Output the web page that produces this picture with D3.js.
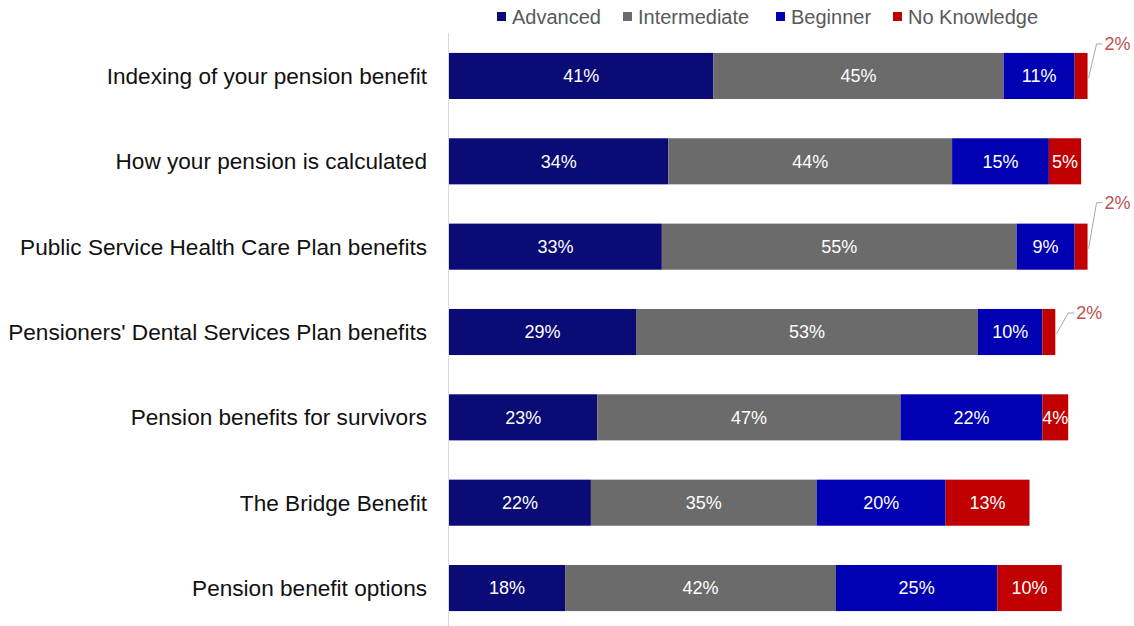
<!DOCTYPE html>
<html>
<head>
<meta charset="utf-8">
<script src="https://cdn.jsdelivr.net/npm/d3@7/dist/d3.min.js"></script>
<style>
  html, body { margin: 0; padding: 0; background: #fff; }
  svg { display: block; font-family: "Liberation Sans", Arial, sans-serif; }
</style>
</head>
<body>
<svg id="chart" width="1134" height="626"></svg>
<script>
// Survey topics, top to bottom
const categories = [
  "Indexing of your pension benefit",
  "How your pension is calculated",
  "Public Service Health Care Plan benefits",
  "Pensioners' Dental Services Plan benefits",
  "Pension benefits for survivors",
  "The Bridge Benefit",
  "Pension benefit options"
];

// Knowledge levels (stack order, left to right)
const seriesNames = ["Advanced", "Intermediate", "Beginner", "No Knowledge"];

// Percent of respondents per level
const advanced     = [41, 34, 33, 29, 23, 22, 18];
const intermediate = [45, 44, 55, 53, 47, 35, 42];
const beginner     = [11, 15,  9, 10, 22, 20, 25];
const noKnowledge  = [ 2,  5,  2,  2,  4, 13, 10];

const colors = ["#0B0B75", "#6B6B6B", "#0000B2", "#C00000"];

const rows = categories.map((c, i) => ({
  category: c,
  "Advanced": advanced[i],
  "Intermediate": intermediate[i],
  "Beginner": beginner[i],
  "No Knowledge": noKnowledge[i]
}));

// Small segments get their label outside with a leader line (offsets in px)
const calloutOffset = {
  0: { dx: 16, dy: -32 },
  2: { dx: 16, dy: -44 },
  3: { dx: 20, dy: -19 }
};

const svg = d3.select("#chart");

const x = d3.scaleLinear().domain([0, 100]).range([449, 1094]);
const y = d3.scaleBand()
  .domain(categories)
  .range([33.3, 630.7])
  .paddingInner(0.46)
  .paddingOuter(0.23);

const color = d3.scaleOrdinal().domain(seriesNames).range(colors);

const stacked = d3.stack().keys(seriesNames)(rows);

// vertical category axis line
svg.append("line")
  .attr("x1", x(0) - 0.5).attr("x2", x(0) - 0.5)
  .attr("y1", 33).attr("y2", 626)
  .attr("stroke", "#D9D9D9").attr("stroke-width", 1);

// bars
const layer = svg.append("g").selectAll("g")
  .data(stacked)
  .join("g")
  .attr("fill", d => color(d.key));

layer.selectAll("rect")
  .data(d => d.map(p => Object.assign(p, { key: d.key })))
  .join("rect")
  .attr("x", d => x(d[0]))
  .attr("y", d => y(d.data.category))
  .attr("width", d => x(d[1]) - x(d[0]))
  .attr("height", y.bandwidth());

// value labels
const labels = svg.append("g").attr("font-size", 18);
stacked.forEach(s => {
  s.forEach((d, i) => {
    const v = d[1] - d[0];
    const cy = y(d.data.category) + y.bandwidth() / 2;
    const off = s.key === "No Knowledge" ? calloutOffset[i] : null;
    if (off) {
      const x0 = x(d[1]) + 1;
      const y0 = cy + 2;
      const lx = x0 + off.dx - 8;
      const ly = cy + off.dy;
      labels.append("polyline")
        .attr("points", `${x0},${y0} ${lx},${ly} ${lx + 6},${ly}`)
        .attr("fill", "none")
        .attr("stroke", "#A6A6A6")
        .attr("stroke-width", 1);
      labels.append("text")
        .attr("x", lx + 8)
        .attr("y", ly)
        .attr("dy", "0.35em")
        .attr("fill", "#C0504D")
        .text(v + "%");
    } else {
      labels.append("text")
        .attr("x", (x(d[0]) + x(d[1])) / 2)
        .attr("y", cy)
        .attr("dy", "0.35em")
        .attr("text-anchor", "middle")
        .attr("fill", "#FFFFFF")
        .text(v + "%");
    }
  });
});

// category labels
svg.append("g")
  .selectAll("text")
  .data(categories)
  .join("text")
  .attr("x", 427)
  .attr("y", d => y(d) + y.bandwidth() / 2)
  .attr("dy", "0.35em")
  .attr("text-anchor", "end")
  .attr("font-size", 22.6)
  .attr("fill", "#111111")
  .text(d => d);

// legend
const legend = svg.append("g").attr("font-size", 20);
const legendX = [497, 623, 776, 893];
seriesNames.forEach((name, i) => {
  const g = legend.append("g").attr("transform", `translate(${legendX[i]},0)`);
  g.append("rect")
    .attr("x", 0).attr("y", 12)
    .attr("width", 9).attr("height", 9)
    .attr("fill", colors[i]);
  g.append("text")
    .attr("x", 15).attr("y", 16.5)
    .attr("dy", "0.35em")
    .attr("fill", "#595959")
    .text(name);
});
</script>
</body>
</html>
